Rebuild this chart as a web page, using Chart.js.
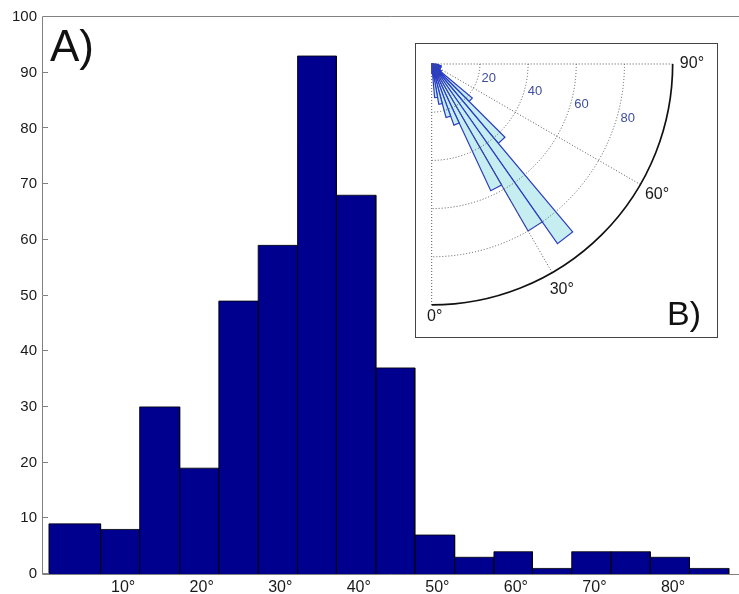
<!DOCTYPE html>
<html>
<head>
<meta charset="utf-8">
<script src="https://cdn.jsdelivr.net/npm/chart.js@4.4.1/dist/chart.umd.min.js"></script>
<style>
html,body{margin:0;padding:0;background:#fff;}
#wrap{position:relative;width:739px;height:594px;overflow:hidden;background:#fff;}
#main{position:absolute;left:0;top:0;}
#inset{position:absolute;left:415px;top:43px;width:303px;height:295px;box-sizing:border-box;border:1px solid #444;background:#fff;}
#rose{display:block;}
.lbl{position:absolute;font-family:"Liberation Sans",Arial,sans-serif;color:#111;line-height:1;white-space:nowrap;}
</style>
</head>
<body>
<div id="wrap">
  <canvas id="main" width="739" height="594"></canvas>
  <div class="lbl" style="left:50px;top:23.5px;font-size:44px;">A)</div>
  <div id="inset"><canvas id="rose" width="301" height="293"></canvas></div>
  <div class="lbl" style="left:667px;top:295.5px;font-size:34px;">B)</div>
</div>
<script>
// ---------- data: histogram (panel A) ----------
const binEdges  = [0.55, 7.13, 12.1, 17.2, 22.18, 27.19, 32.2, 37.15, 42.17, 47.13, 52.2, 57.2, 62.1, 67.1, 72.1, 77.1, 82.1, 87.1];
const binCounts = [9, 8, 30, 19, 49, 59, 93, 68, 37, 7, 3, 4, 1, 4, 4, 3, 1];
const xTickValues = [10, 20, 30, 40, 50, 60, 70, 80];
const yTickValues = [0, 10, 20, 30, 40, 50, 60, 70, 80, 90, 100];

// ---------- data: rose diagram (panel B) ----------
const roseBinEdges = [0, 5, 10, 15, 20, 25, 30, 35, 40, 45, 50, 55, 60, 65, 70, 75, 80, 85, 90];
const roseCounts   = [4, 14, 17, 23, 27, 58, 80, 91, 43, 22, 5, 3, 4, 2, 4, 4, 3, 2];
const roseRings = [20, 40, 60, 80];
const roseRingMax = 100;
const roseSpokes = [0, 30, 60, 90];
const roseSpokeLabels = ['0°', '30°', '60°', '90°'];

const FONT = '"Liberation Sans", Arial, sans-serif';

// ---------- panel A ----------
const histPath = [];
binCounts.forEach((v, i) => {
  histPath.push({x: binEdges[i], y: 0}, {x: binEdges[i], y: v},
                {x: binEdges[i + 1], y: v}, {x: binEdges[i + 1], y: 0});
});

const framePlugin = {
  id: 'frame',
  afterDatasetsDraw(chart) {
    const {ctx, chartArea: a, scales: {y}} = chart;
    ctx.save();
    ctx.strokeStyle = '#808080';
    ctx.lineWidth = 1;
    ctx.beginPath();
    ctx.moveTo(a.right, a.top - 0.5);
    ctx.lineTo(a.left - 0.5, a.top - 0.5);
    ctx.lineTo(a.left - 0.5, a.bottom + 0.5);
    ctx.lineTo(a.right, a.bottom + 0.5);
    y.ticks.forEach(t => {
      const py = Math.round(y.getPixelForValue(t.value)) - 0.5;
      ctx.moveTo(a.left, py);
      ctx.lineTo(a.left + 5, py);
    });
    ctx.stroke();
    ctx.restore();
  }
};

new Chart(document.getElementById('main'), {
  type: 'scatter',
  data: {
    datasets: [{
      data: histPath,
      showLine: true,
      fill: 'origin',
      backgroundColor: '#00008f',
      borderColor: '#000000',
      borderWidth: 0.8,
      pointRadius: 0,
      pointHoverRadius: 0,
      tension: 0
    }]
  },
  options: {
    responsive: false,
    animation: false,
    events: [],
    layout: {padding: {top: 17, right: 0, left: 0, bottom: 0}},
    plugins: {legend: {display: false}, tooltip: {enabled: false}},
    scales: {
      x: {
        type: 'linear', min: -0.2, max: 88.4,
        afterFit(s) { s.height = 20; },
        afterBuildTicks(s) { s.ticks = xTickValues.map(v => ({value: v})); },
        grid: {display: false, drawTicks: false},
        border: {display: false},
        ticks: {padding: 4, color: '#1a1a1a', font: {family: FONT, size: 16}, maxRotation: 0, autoSkip: false,
                callback: v => v + '°'}
      },
      y: {
        type: 'linear', min: 0, max: 100,
        afterFit(s) { s.width = 43; },
        afterBuildTicks(s) { s.ticks = yTickValues.map(v => ({value: v})); },
        grid: {display: false, drawTicks: false},
        border: {display: false},
        ticks: {padding: 6, color: '#1a1a1a', font: {family: FONT, size: 15}, autoSkip: false}
      }
    }
  },
  plugins: [framePlugin]
});

// ---------- panel B ----------
const rad = d => d * Math.PI / 180;
const polarXY = (deg, r) => ({x: r * Math.sin(rad(deg)), y: -r * Math.cos(rad(deg))});

const wedgeSets = roseCounts.map((v, i) => ({
  data: [{x: 0, y: 0}, polarXY(roseBinEdges[i], v), polarXY(roseBinEdges[i + 1], v), {x: 0, y: 0}],
  showLine: true,
  fill: 'shape',
  backgroundColor: '#c6eef0',
  borderColor: '#2a3cc4',
  borderWidth: 1.2,
  pointRadius: 0,
  pointHoverRadius: 0,
  tension: 0
}));

const roseGrid = {
  id: 'roseGrid',
  afterDatasetsDraw(chart) {
    const {ctx, scales: {x, y}} = chart;
    const px = p => ({x: x.getPixelForValue(p.x), y: y.getPixelForValue(p.y)});
    const c = px({x: 0, y: 0});
    const R = v => x.getPixelForValue(v) - c.x;
    ctx.save();
    // dotted rings
    ctx.strokeStyle = '#555';
    ctx.lineWidth = 1;
    ctx.setLineDash([1, 2]);
    roseRings.forEach(r => {
      ctx.beginPath();
      ctx.arc(c.x, c.y, R(r), 0, Math.PI / 2);
      ctx.stroke();
    });
    // dotted spokes
    roseSpokes.forEach(a => {
      const e = px(polarXY(a, roseRingMax));
      ctx.beginPath();
      ctx.moveTo(c.x, c.y);
      ctx.lineTo(e.x, e.y);
      ctx.stroke();
    });
    // outer solid arc
    ctx.setLineDash([]);
    ctx.strokeStyle = '#111';
    ctx.lineWidth = 1.7;
    ctx.beginPath();
    ctx.arc(c.x, c.y, R(roseRingMax), 0, Math.PI / 2);
    ctx.stroke();
    // ring labels
    ctx.fillStyle = '#3f4fa0';
    ctx.font = '13px ' + FONT;
    ctx.textAlign = 'left';
    ctx.textBaseline = 'middle';
    roseRings.forEach(r => {
      const p = px(polarXY(74, r + 1.5));
      ctx.fillText(String(r), p.x, p.y);
    });
    // angle labels
    ctx.fillStyle = '#1a1a1a';
    ctx.font = '16px ' + FONT;
    ctx.textAlign = 'center';
    roseSpokes.forEach((a, i) => {
      const p = px(polarXY(a, a === 0 ? 104.5 : 108));
      ctx.fillText(roseSpokeLabels[i], p.x + (a === 0 ? 3 : 0), p.y + (a === 0 ? 1 : 0));
    });
    ctx.restore();
  }
};

new Chart(document.getElementById('rose'), {
  type: 'scatter',
  data: {datasets: wedgeSets},
  options: {
    responsive: false,
    animation: false,
    events: [],
    layout: {padding: 0},
    plugins: {legend: {display: false}, tooltip: {enabled: false}},
    scales: {
      x: {type: 'linear', display: false, min: -6.51, max: 118.4},
      y: {type: 'linear', display: false, min: -113.3, max: 8.3}
    }
  },
  plugins: [roseGrid]
});
</script>
</body>
</html>
